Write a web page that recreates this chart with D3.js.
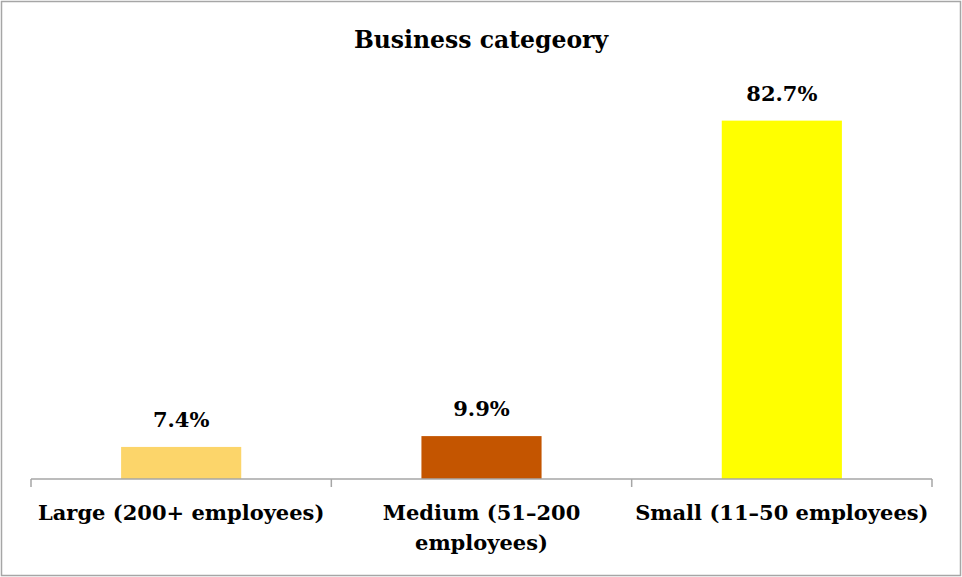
<!DOCTYPE html>
<html>
<head>
<meta charset="utf-8">
<script src="https://cdn.jsdelivr.net/npm/d3@7"></script>
<style>
  html, body { margin: 0; padding: 0; background: #fff; }
  svg { display: block; }
  text { font-family: "DejaVu Serif", serif; font-weight: bold; fill: #000; }
</style>
</head>
<body>
<script>
const title = "Business categeory";
const categories = ["Large (200+ employees)", "Medium (51–200 employees)", "Small (11–50 employees)"];
const values = [7.4, 9.9, 82.7];
const barColors = ["#FCD56A", "#C45500", "#FFFF00"];
const valueLabels = ["7.4%", "9.9%", "82.7%"];

const W = 962, H = 577;
const svg = d3.select("body").append("svg").attr("width", W).attr("height", H);

svg.append("rect").attr("x", 1.5).attr("y", 1.5).attr("width", W - 3).attr("height", H - 3)
  .attr("fill", "#fff").attr("stroke", "#a6a6a6").attr("stroke-width", 1.5);

const x = d3.scaleBand().domain(categories).range([31, 932]).paddingInner(0.6).paddingOuter(0.3);
const y = d3.scaleLinear().domain([0, 90]).range([479, 89]);

svg.append("text").attr("x", 481).attr("y", 48).attr("text-anchor", "middle")
  .style("font-size", "23.5px").text(title);

// bars
svg.selectAll("rect.bar").data(values).enter().append("rect").attr("class", "bar")
  .attr("x", (d, i) => x(categories[i]))
  .attr("width", x.bandwidth())
  .attr("y", d => y(d))
  .attr("height", d => y(0) - y(d))
  .attr("fill", (d, i) => barColors[i]);

// value labels
svg.selectAll("text.val").data(values).enter().append("text").attr("class", "val")
  .attr("x", (d, i) => x(categories[i]) + x.bandwidth() / 2)
  .attr("y", d => y(d) - 20)
  .attr("text-anchor", "middle")
  .style("font-size", "21px")
  .text((d, i) => valueLabels[i]);

// axis
const axis = d3.axisBottom(x).tickSize(0).tickPadding(0).tickFormat("");
const gx = svg.append("g").attr("transform", `translate(0,${y(0)})`).call(axis);
gx.select(".domain").attr("stroke", "#a6a6a6").attr("stroke-width", 1.5).attr("d", "M31,0H932");
gx.selectAll(".tick").remove();
const step = x.step();
const bounds = d3.range(categories.length + 1).map(i => 31 + i * step);
gx.selectAll("line.bt").data(bounds).enter().append("line").attr("class", "bt")
  .attr("x1", d => d).attr("x2", d => d).attr("y1", 0).attr("y2", 8)
  .attr("stroke", "#a6a6a6").attr("stroke-width", 1.5);

// category labels with wrap
const labelG = svg.selectAll("text.cat").data(categories).enter().append("text").attr("class", "cat")
  .attr("text-anchor", "middle")
  .style("font-size", "21px")
  .attr("x", d => x(d) + x.bandwidth() / 2)
  .attr("y", 520);

labelG.each(function(d) {
  const t = d3.select(this);
  const cx = +t.attr("x");
  const maxW = step - 2;
  const words = d.split(" ");
  let line = [];
  let tspan = t.append("tspan").attr("x", cx).attr("dy", 0);
  for (const w of words) {
    line.push(w);
    tspan.text(line.join(" "));
    if (tspan.node().getComputedTextLength() > maxW && line.length > 1) {
      line.pop();
      tspan.text(line.join(" "));
      line = [w];
      tspan = t.append("tspan").attr("x", cx).attr("dy", 30).text(w);
    }
  }
});
</script>
</body>
</html>
